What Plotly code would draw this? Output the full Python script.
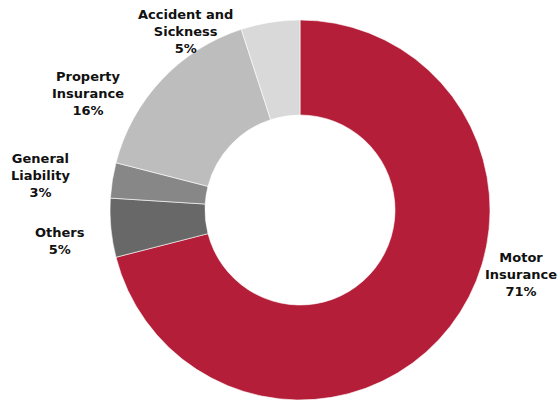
import plotly.graph_objects as go

# Premium mix by line of business (share of total, %)
categories = ["Motor Insurance", "Others", "General Liability", "Property Insurance", "Accident and Sickness"]
shares = [71, 5, 3, 16, 5]
label_text = ["Motor<br>Insurance", "Others", "General<br>Liability", "Property<br>Insurance", "Accident and<br>Sickness"]

colors = ["#B41E38", "#686868", "#878787", "#BDBDBD", "#D9D9D9"]

# Label anchor points (pixels from top-left of the 559x400 canvas)
label_px = [(521, 274), (60, 241), (40, 175), (88, 93), (185, 32)]

W, H = 559, 400
cx, cy, r = 300, 210, 190

fig = go.Figure(go.Pie(
    labels=categories,
    values=shares,
    hole=0.5,
    sort=False,
    direction="clockwise",
    rotation=0,
    textinfo="none",
    hoverinfo="label+percent",
    marker=dict(colors=colors, line=dict(color="white", width=0.6)),
    showlegend=False,
    domain=dict(x=[(cx - r) / W, (cx + r) / W], y=[1 - (cy + r) / H, 1 - (cy - r) / H]),
))

for text, val, (px, py) in zip(label_text, shares, label_px):
    fig.add_annotation(
        x=px / W, y=1 - py / H, xref="paper", yref="paper",
        text=f"{text}<br>{val}%",
        showarrow=False, xanchor="center", yanchor="middle", align="center",
        font=dict(family="DejaVu Sans", size=13, color="#111111", weight="bold"),
    )

fig.update_layout(
    width=W, height=H,
    margin=dict(l=0, r=0, t=0, b=0),
    paper_bgcolor="white",
    plot_bgcolor="white",
)

fig.write_html("out.html")
